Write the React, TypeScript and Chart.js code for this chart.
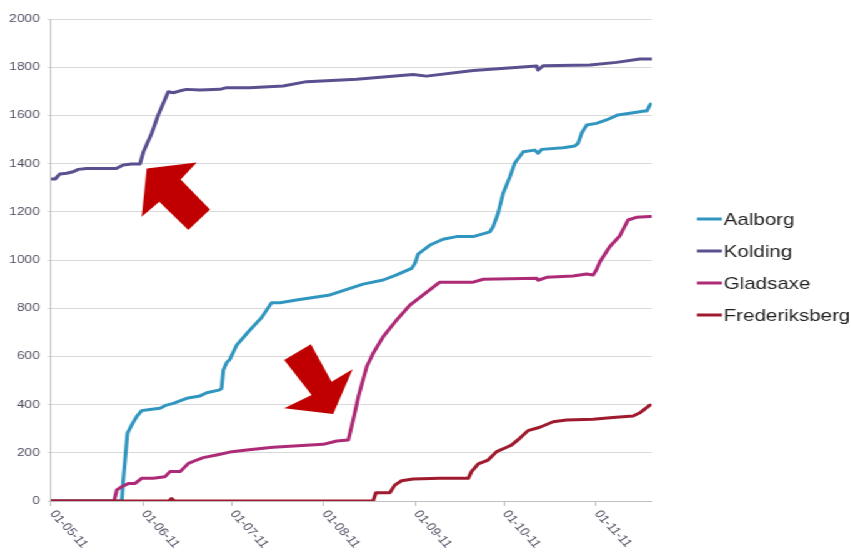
import React, { useEffect, useRef } from "react";
import { Chart, registerables } from "chart.js";

Chart.register(...registerables);

// Day offsets are counted from 1 May 2011.
const monthDays = [0, 31, 61, 92, 123, 153, 184];
const monthLabels = ["01-05-11", "01-06-11", "01-07-11", "01-08-11", "01-09-11", "01-10-11", "01-11-11"];

const seriesNames = ["Aalborg", "Kolding", "Gladsaxe", "Frederiksberg"];
const seriesColors = ["#3196bf", "#5a4f8f", "#ad2a77", "#9e1a2c"];

const aalborgDays = [0, 23.9, 24.3, 25.8, 27.2, 28.9, 30.6, 33.4, 36.8, 39, 41.3, 45.8, 50.3, 52.6, 57, 57.6, 58.2, 59.3, 60.4, 62.7, 67.2, 71.1, 74.5, 77.3, 82.9, 94.2, 97.6, 105.4, 112.2, 116.7, 121.8, 122.9, 124, 128, 132.4, 137, 142.6, 148.2, 149.3, 151, 152.7, 155, 156.6, 159.5, 163.4, 164.5, 165.7, 173, 176.9, 178, 179.2, 180.9, 184.2, 187.6, 191.5, 195.5, 200.5, 201.2, 202.5];
const aalborgValues = [0, 0, 74, 281, 315, 350, 375, 380, 385, 398, 405, 426, 436, 449, 461, 468, 544, 574, 588, 647, 710, 761, 823, 823, 834, 855, 869, 900, 917, 938, 965, 986, 1025, 1062, 1086, 1097, 1097, 1117, 1138, 1194, 1277, 1346, 1401, 1449, 1456, 1443, 1459, 1466, 1473, 1484, 1526, 1560, 1567, 1581, 1602, 1609, 1618, 1618, 1647];

const koldingDays = [0, 1.4, 3, 5.3, 7.5, 9.2, 12, 22, 24.4, 27.2, 30, 31.2, 34, 36.2, 37.9, 39.6, 41.3, 43.6, 45.8, 50.3, 57, 59.3, 67, 78.4, 86.3, 103.2, 122.3, 126.8, 142.6, 164, 164.5, 166.2, 182, 191, 198.9, 203];
const koldingValues = [1336, 1336, 1357, 1360, 1366, 1376, 1380, 1380, 1394, 1398, 1398, 1449, 1526, 1602, 1650, 1698, 1694, 1702, 1708, 1705, 1708, 1715, 1715, 1722, 1740, 1750, 1770, 1763, 1786, 1805, 1788, 1806, 1809, 1820, 1834, 1834];

const gladsaxeDays = [0, 21.3, 22.2, 23.9, 26.1, 28.4, 30.6, 34.5, 38.5, 40.2, 43.6, 46.4, 49.2, 51.4, 55.9, 60.4, 66.1, 71.7, 75, 91.9, 96.5, 100.4, 102.3, 103.8, 106.6, 108.8, 112.2, 116.7, 121.2, 125.7, 131.3, 142.6, 146, 164, 164.5, 167.4, 176.3, 180.9, 183.1, 184.2, 185.4, 188.7, 192.1, 194.9, 197.7, 202.5];
const gladsaxeValues = [0, 0, 46, 59, 73, 73, 94, 94, 101, 122, 122, 156, 170, 180, 191, 203, 212, 219, 223, 235, 249, 253, 350, 433, 557, 613, 682, 751, 813, 855, 908, 908, 920, 924, 916, 928, 934, 942, 938, 959, 993, 1055, 1100, 1166, 1177, 1180];

const frederiksbergDays = [0, 39.8, 40.7, 41.6, 108.8, 109.7, 114.4, 116.1, 118.4, 122.3, 131.3, 140.9, 142, 144.3, 147.6, 150.5, 153.9, 155.5, 158.3, 161.1, 165.1, 169.6, 174.1, 183.1, 189.8, 196.6, 198.9, 202.3];
const frederiksbergValues = [0, 0, 10, 0, 0, 34, 34, 66, 84, 91, 94, 94, 122, 154, 170, 205, 223, 232, 260, 292, 306, 329, 336, 339, 346, 353, 366, 398];

// Callout arrows: tip position in data units.
const arrowDays = [32.3, 95.3];
const arrowValues = [1380, 361];

// The whole figure is shown widened horizontally by this factor.
const STRETCH = 1.25;

// Arrow outlines as on-screen offsets from the tip (x is divided by STRETCH when drawn).
const arrowShapes = [
  [[0, 0], [50, -6], [34, 11], [63.3, 41], [41.6, 61.7], [12.6, 33.4], [-5, 48.4]],
  [[0, 0], [19.4, -44.7], [-1.6, -32.3], [-22.3, -69.7], [-49, -54], [-21.6, -19], [-49, -5.7]],
];

const seriesDays = [aalborgDays, koldingDays, gladsaxeDays, frederiksbergDays];
const seriesValues = [aalborgValues, koldingValues, gladsaxeValues, frederiksbergValues];

const FONT = '"Liberation Sans", Arial, sans-serif';
const TICK_COLOR = "#4a4a5e";

const monthLabelPlugin = {
  id: "monthLabels",
  afterDraw(chart: any) {
    const { ctx, scales } = chart;
    const x = scales.x;
    ctx.save();
    ctx.font = `11px ${FONT}`;
    ctx.fillStyle = TICK_COLOR;
    ctx.textAlign = "left";
    ctx.textBaseline = "middle";
    monthDays.forEach((d, i) => {
      const px = x.getPixelForValue(d);
      ctx.save();
      ctx.translate(px + 1, x.top + 11);
      ctx.rotate((53 * Math.PI) / 180);
      ctx.fillText(monthLabels[i], 0, 0);
      ctx.restore();
    });
    ctx.restore();
  },
};

const arrowPlugin = {
  id: "calloutArrows",
  afterDatasetsDraw(chart: any) {
    const { ctx, scales } = chart;
    ctx.save();
    ctx.fillStyle = "#c00000";
    arrowShapes.forEach((shape, i) => {
      const tx = scales.x.getPixelForValue(arrowDays[i]);
      const ty = scales.y.getPixelForValue(arrowValues[i]);
      ctx.beginPath();
      shape.forEach(([dx, dy], j) => {
        const px = tx + dx / STRETCH;
        const py = ty + dy;
        if (j === 0) ctx.moveTo(px, py);
        else ctx.lineTo(px, py);
      });
      ctx.closePath();
      ctx.fill();
    });
    ctx.restore();
  },
};

const sideLegendPlugin = {
  id: "sideLegend",
  afterDraw(chart: any) {
    const { ctx, chartArea } = chart;
    const x0 = chartArea.right + 36;
    ctx.save();
    ctx.font = `16.4px ${FONT}`;
    ctx.textAlign = "left";
    ctx.textBaseline = "middle";
    chart.data.datasets.forEach((ds: any, i: number) => {
      const y = chartArea.top + 200 + i * 32;
      ctx.strokeStyle = ds.borderColor;
      ctx.lineWidth = 3;
      ctx.beginPath();
      ctx.moveTo(x0, y);
      ctx.lineTo(x0 + 20, y);
      ctx.stroke();
      ctx.fillStyle = "#1f1f1f";
      ctx.fillText(ds.label, x0 + 21.5, y + 1);
    });
    ctx.restore();
  },
};

export default function App() {
  const canvasRef = useRef<HTMLCanvasElement | null>(null);

  useEffect(() => {
    if (!canvasRef.current) return;
    const datasets = seriesNames.map((name, i) => ({
      label: name,
      data: seriesDays[i].map((d, k) => ({ x: d, y: seriesValues[i][k] })),
      borderColor: seriesColors[i],
      backgroundColor: seriesColors[i],
      borderWidth: 3,
      pointRadius: 0,
      tension: 0,
      borderJoinStyle: "round" as const,
      borderCapStyle: "round" as const,
      order: seriesNames.length - i,
    }));

    const chart = new Chart(canvasRef.current, {
      type: "line",
      data: { datasets },
      options: {
        animation: false,
        responsive: true,
        maintainAspectRatio: false,
        layout: { padding: { top: 19, right: 158.4, bottom: 0, left: 0 } },
        plugins: { legend: { display: false }, tooltip: { enabled: false } },
        scales: {
          x: {
            type: "linear",
            min: 0,
            max: 203,
            afterBuildTicks: (scale: any) => {
              scale.ticks = monthDays.map((v) => ({ value: v }));
            },
            afterFit: (scale: any) => {
              scale.height = 52;
            },
            ticks: { display: false },
            grid: {
              drawOnChartArea: false,
              drawTicks: true,
              tickLength: 5,
              color: "#bfbfbf",
            },
            border: { color: "#bfbfbf" },
          },
          y: {
            min: 0,
            max: 2000,
            afterFit: (scale: any) => {
              scale.width = 40.8;
            },
            ticks: {
              stepSize: 200,
              padding: 6,
              color: TICK_COLOR,
              font: { family: FONT, size: 11 },
              callback: (v: any) => String(v),
            },
            grid: { color: "#d9d9d9", tickLength: 3 },
            border: { color: "#bfbfbf" },
          },
        },
      },
      plugins: [arrowPlugin, monthLabelPlugin, sideLegendPlugin],
    });
    return () => chart.destroy();
  }, []);

  return (
    <div
      style={{
        position: "absolute",
        left: 0,
        top: 0,
        width: 680,
        height: 553,
        transform: `scaleX(${STRETCH})`,
        transformOrigin: "0 0",
        background: "#ffffff",
      }}
    >
      <canvas ref={canvasRef} />
    </div>
  );
}
